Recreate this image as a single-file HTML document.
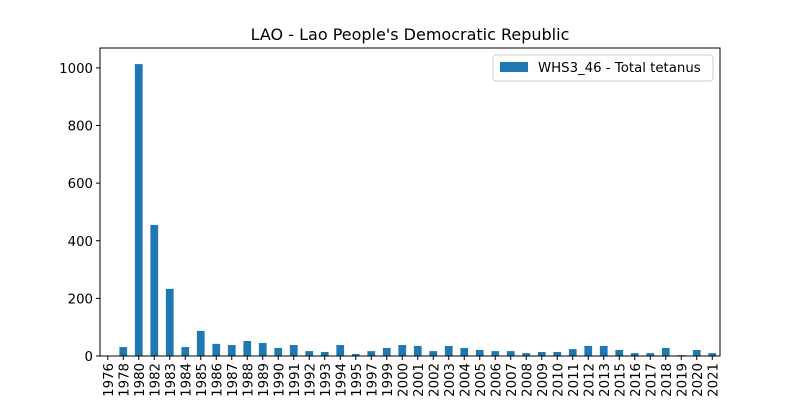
<!DOCTYPE html>
<html><head><meta charset="utf-8"><style>
body{margin:0;background:#fff;font-family:"DejaVu Sans","Liberation Sans",sans-serif}
svg text{font-family:"DejaVu Sans","Liberation Sans",sans-serif}
</style></head><body>
<svg id="chart" width="800" height="400" xmlns="http://www.w3.org/2000/svg"></svg>
<script>
const categories=["1976","1978","1980","1982","1983","1984","1985","1986","1987","1988","1989","1990","1991","1992","1993","1994","1995","1997","1999","2000","2001","2002","2003","2004","2005","2006","2007","2008","2009","2010","2011","2012","2013","2015","2016","2017","2018","2019","2020","2021"];
const values=[0,31,1013,455,233,31,87,42,38,52,45,28,38,17,14,38,7,17,28,38,35,17,35,28,21,17,17,10,14,14,24,35,35,21,10,10,28,3,21,10];
const yTicks=[0,200,400,600,800,1000];
const svg=document.getElementById('chart');
const NS='http://www.w3.org/2000/svg';
const L=100,R=720,T=48,B=356,yMax=1069;
const step=(R-L)/categories.length;
const x=i=>L+step*(i+0.5);
const y=v=>B-(v/yMax)*(B-T);
function mk(t,a,txt){const e=document.createElementNS(NS,t);for(const k in a)e.setAttribute(k,a[k]);if(txt!==undefined)e.textContent=txt;svg.appendChild(e);return e;}
values.forEach((v,i)=>{const r=mk('rect',{x:x(i)-step/4,y:y(v),width:step/2,height:B-y(v),fill:'#1f77b4'});

});
yTicks.forEach(t=>{mk('line',{x1:L-4,x2:L,y1:y(t),y2:y(t),stroke:'#000'});
const e=mk('text',{x:L-7,y:y(t)+5,'text-anchor':'end','font-size':13.3},t);

});
categories.forEach((c,i)=>{mk('line',{x1:x(i),x2:x(i),y1:B,y2:B+4,stroke:'#000'});
const e=mk('text',{x:x(i)+5,y:B+7,'text-anchor':'end','font-size':13.3,transform:`rotate(-90 ${x(i)+5} ${B+7})`},c);

});
const ax=mk('rect',{x:L,y:T,width:R-L,height:B-T,fill:'none',stroke:'#000','stroke-width':1});


const ti=mk('text',{x:410,y:40,'text-anchor':'middle','font-size':16},"LAO - Lao People's Democratic Republic");


const lg=mk('rect',{x:493,y:55,width:220,height:26,rx:3,fill:'#fff',stroke:'#ccc'});


mk('rect',{x:500,y:62,width:28,height:10,fill:'#1f77b4'});
const lt=mk('text',{x:538,y:72,'font-size':13.3},'WHS3_46 - Total tetanus');


</script>
</body></html>
